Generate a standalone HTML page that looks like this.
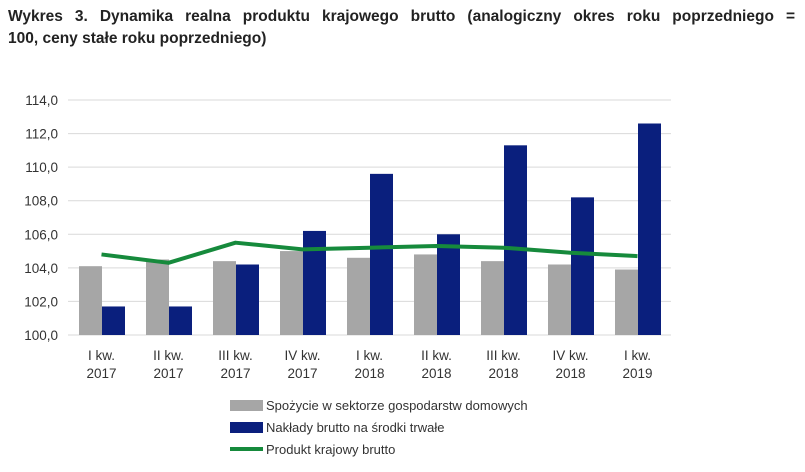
<!DOCTYPE html>
<html><head><meta charset="utf-8"><style>
body{margin:0;background:#fff;width:805px;height:472px;overflow:hidden;font-family:"Liberation Sans",sans-serif}
#title{position:absolute;left:8px;top:6px;width:787px;font-size:15.5px;font-weight:bold;color:#222;line-height:22px}
#title .l1{text-align:justify;text-align-last:justify;white-space:nowrap}
</style></head><body>
<div id="title"><div class="l1">Wykres 3. Dynamika realna produktu krajowego brutto (analogiczny okres roku poprzedniego =</div><div>100, ceny stałe roku poprzedniego)</div></div>
<svg id="chart" width="805" height="472" style="position:absolute;left:0;top:0"></svg>
<script>
const categories=[["I kw.","2017"],["II kw.","2017"],["III kw.","2017"],["IV kw.","2017"],["I kw.","2018"],["II kw.","2018"],["III kw.","2018"],["IV kw.","2018"],["I kw.","2019"]];
const consumption=[104.1,104.5,104.4,105.0,104.6,104.8,104.4,104.2,103.9];
const investment=[101.7,101.7,104.2,106.2,109.6,106.0,111.3,108.2,112.6];
const gdp=[104.8,104.3,105.5,105.1,105.2,105.3,105.2,104.9,104.7];
const yTicks=[100,102,104,106,108,110,112,114];
const legendLabels=["Spożycie w sektorze gospodarstw domowych","Nakłady brutto na środki trwałe","Produkt krajowy brutto"];
const NS="http://www.w3.org/2000/svg",svg=document.getElementById('chart');
const x0=68,x1=671,yB=335,yT=100,vmin=100,vmax=114;
const bw=(x1-x0)/categories.length;
const y=v=>yB-(v-vmin)/(vmax-vmin)*(yB-yT);
const cx=i=>x0+bw*(i+0.5);
function mk(t,a,p){const e=document.createElementNS(NS,t);for(const k in a)e.setAttribute(k,a[k]);(p||svg).appendChild(e);return e;}
yTicks.forEach(v=>{
 const g=mk('line',{x1:x0,x2:x1,y1:y(v),y2:y(v),stroke:'#d9d9d9','stroke-width':1});
 
 
 const t=mk('text',{x:58,y:y(v)+5,'text-anchor':'end','font-size':13.5,fill:'#333'});
 t.textContent=v.toFixed(1).replace('.',',');
 
 
});
categories.forEach((c,i)=>{
 const r1=mk('rect',{x:cx(i)-22.5,y:y(consumption[i]),width:23,height:yB-y(consumption[i]),fill:'#a6a6a6'});
 
 
 const r2=mk('rect',{x:cx(i)+0.5,y:y(investment[i]),width:23,height:yB-y(investment[i]),fill:'#0a1f7d'});
 
 
 c.forEach((s,k)=>{const t=mk('text',{x:cx(i),y:360+k*18,'text-anchor':'middle','font-size':13.5,fill:'#333'});t.textContent=s;
 
 });
});
const pl=mk('polyline',{points:gdp.map((v,i)=>cx(i)+','+y(v)).join(' '),fill:'none',stroke:'#168a3c','stroke-width':4,'stroke-linejoin':'round'});


const lg=[['rect','#a6a6a6'],['rect','#0a1f7d'],['line','#168a3c']];
lg.forEach((l,k)=>{
 const ly=405+k*22;
 let m;
 if(l[0]==='rect')m=mk('rect',{x:230,y:ly-5,width:33,height:11,fill:l[1]});
 else m=mk('line',{x1:230,x2:263,y1:ly,y2:ly,stroke:l[1],'stroke-width':4});
 
 
 const t=mk('text',{x:266,y:ly+5,'font-size':13,fill:'#333'});t.textContent=legendLabels[k];
 
 
});
</script>
</body></html>
